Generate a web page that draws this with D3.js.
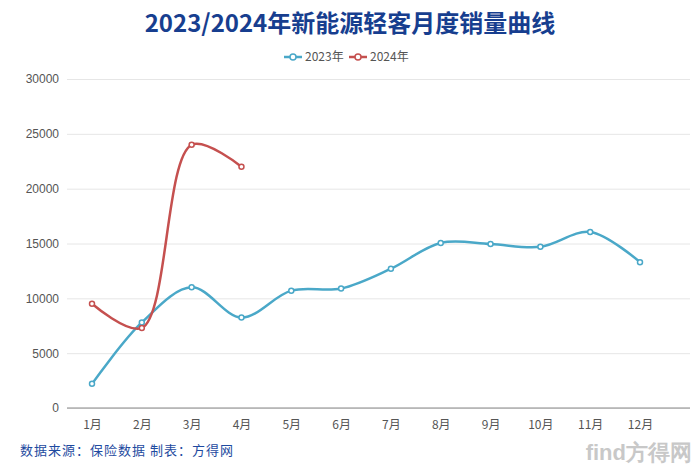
<!DOCTYPE html>
<html><head><meta charset="utf-8">
<script src="https://cdn.jsdelivr.net/npm/d3@7"></script>
<style>body{margin:0;background:#fff}</style>
</head><body>
<svg id="chart" width="700" height="465"></svg>
<script>
let months = ["1月","2月","3月","4月","5月","6月","7月","8月","9月","10月","11月","12月"];
let sales2023 = [2200,7800,11000,8250,10700,10900,12700,15050,14950,14700,16050,13300];
let sales2024 = [9500,7300,24000,22000];
let yTicks = [0,5000,10000,15000,20000,25000,30000];
let seriesNames = ["2023年","2024年"];
let seriesColors = ["#4aa8c8","#c5504f"];

let svg = d3.select("#chart");
let x = d3.scalePoint().domain(months).range([92,640]);
let y = d3.scaleLinear().domain([0,30000]).range([408,79]);

svg.append("text").attr("x",350).attr("y",32).attr("text-anchor","middle")
	.attr("font-family","Noto Sans CJK SC").attr("font-size",24).attr("font-weight","bold")
	.attr("fill","#173e8f").text("2023/2024年新能源轻客月度销量曲线");

svg.append("g").attr("transform","translate(67,0)")
	.call(d3.axisLeft(y).tickValues(yTicks).tickSize(-(690-67)).tickFormat(d3.format("d")))
	.call(g=>{
		g.select(".domain").remove();
		g.selectAll("line").attr("stroke","#e6e6e6");
		g.selectAll("text").attr("x",-8).attr("font-family","Liberation Sans").attr("font-size",12).attr("fill","#555");
	});

svg.append("g").attr("transform","translate(0,408)")
	.call(d3.axisBottom(x).tickSize(0).tickPadding(12).tickSizeOuter(0))
	.call(g=>{
		g.select(".domain").attr("d","M67,0H690").attr("stroke","#888");
		g.selectAll("text").attr("font-family","Noto Sans CJK SC").attr("font-size",12).attr("fill","#555");
	});

let line = d3.line().x((d,i)=>x(months[i])).y(d=>y(d)).curve(d3.curveCatmullRom.alpha(0.5));
[sales2023,sales2024].forEach((s,k)=>{
	svg.append("path").datum(s).attr("d",line).attr("fill","none")
		.attr("stroke",seriesColors[k]).attr("stroke-width",2.5);
	svg.append("g").selectAll("circle").data(s).enter().append("circle")
		.attr("cx",(d,i)=>x(months[i])).attr("cy",d=>y(d)).attr("r",2.5)
		.attr("fill","#fff").attr("stroke",seriesColors[k]).attr("stroke-width",1.5);
});

let leg = svg.append("g").attr("font-family","Noto Sans CJK SC").attr("font-size",12).attr("fill","#555");
[284,349].forEach((lx,k)=>{
	leg.append("line").attr("x1",lx).attr("x2",lx+18).attr("y1",57).attr("y2",57)
		.attr("stroke",seriesColors[k]).attr("stroke-width",2.5);
	leg.append("circle").attr("cx",lx+9).attr("cy",57).attr("r",3)
		.attr("fill","#fff").attr("stroke",seriesColors[k]).attr("stroke-width",1.5);
	leg.append("text").attr("x",lx+21).attr("y",61).attr("fill","#555").text(seriesNames[k]);
});

svg.append("text").attr("x",20).attr("y",455).attr("font-family","Noto Sans CJK SC")
	.attr("font-size",13).attr("fill","#1e4aa0").attr("letter-spacing",1)
	.text("数据来源：保险数据 制表：方得网");
svg.append("text").attr("x",692).attr("y",460).attr("text-anchor","end")
	.attr("font-family","Liberation Sans").attr("font-size",22).attr("font-weight","bold")
	.attr("fill","#bbb").attr("opacity",0.8).text("find方得网");
</script>
</body></html>
